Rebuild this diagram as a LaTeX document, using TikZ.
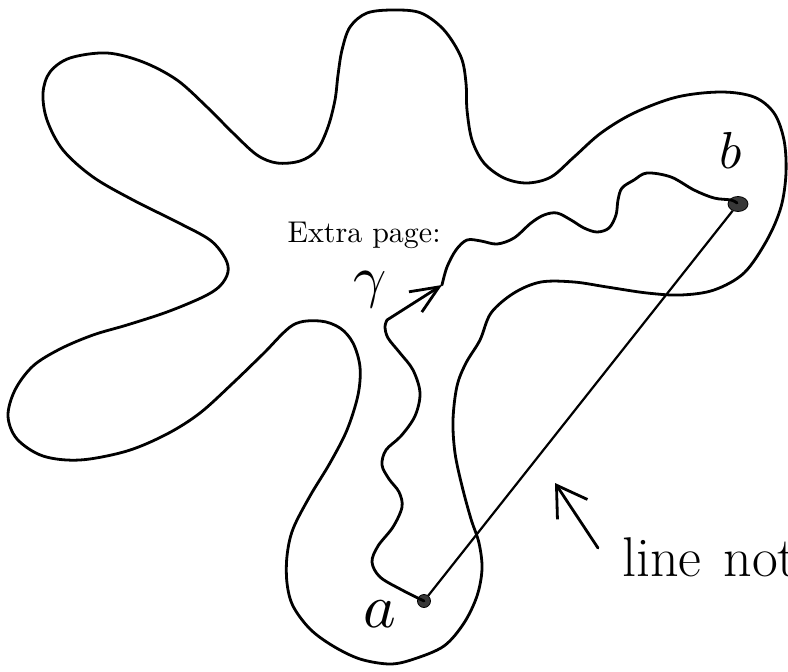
\documentclass[tikz,border=0pt]{standalone}
\usepackage{fontspec}
\usetikzlibrary{arrows.meta,shapes.geometric}
\begin{document}
\begin{tikzpicture}[x=1pt,y=-1pt,
  blob/.style={line width=2.8pt, line join=round, line cap=round},
  wig/.style={line width=2.8pt, line join=round, line cap=round},
  chord/.style={line width=2.2pt},
  hand/.style={inner sep=0pt},
  dotmark/.style={fill=black!78, draw=black, line width=0.8pt, inner sep=0pt}]
\clip (0,0) rectangle (788,672);
% region outline
\draw[blob] plot[smooth cycle, tension=0.55] coordinates {
(394,10) (367,13) (350,27) (342,50) (338,75) (335,100) (328,127) (317,150)
(300,161) (277,163) (257,155) (233,133) (207,107) (177,80) (143,62) (107,53)
(70,58) (50,72) (43,93) (47,120) (63,150) (93,177) (133,200) (177,222)
(210,240) (225,258) (228,272) (220,286) (203,297) (167,312) (127,325) (93,335)
(60,349) (33,366) (15,390) (8,416) (17,439) (43,456) (80,460) (127,451)
(167,434) (200,413) (233,383) (263,354) (293,325) (320,321) (340,328) (353,343)
(360,367) (358,395) (347,430) (330,463) (310,496) (293,529) (287,556) (287,583)
(293,606) (310,629) (333,646) (360,659) (390,664) (414,659) (444,646) (464,623)
(477,596) (482,569) (479,543) (471,519) (462,486) (455,453) (453,420) (457,386)
(466,363) (480,340) (491,313) (514,293) (541,282) (574,282) (607,287) (647,293)
(681,295) (714,290) (744,273) (767,240) (781,207) (786,173) (784,140) (774,113)
(754,97) (721,92) (677,97) (634,113) (601,133) (574,157) (551,177) (527,183)
(504,178) (484,163) (472,140) (467,110) (466,83) (461,57) (444,30) (421,13)};
% end points
\node[dotmark, circle, minimum size=13pt] (adot) at (424,601) {};
\node[dotmark, ellipse, minimum width=20pt, minimum height=15pt] (bdot) at (738,204) {};
\coordinate (gtail) at (387,320);
\coordinate (gtip) at (442,285);
\coordinate (ltail) at (598,548);
\coordinate (ltip) at (555,483);
% straight segment
\draw[chord] (adot) -- (bdot);
% wiggly path gamma
\draw[wig] plot[smooth, tension=0.55] coordinates {
(424,601) (402,590) (380,577) (372,562) (378,546) (393,527) (402,507) (399,492)
(389,479) (382,465) (386,450) (401,436) (415,416) (420,393) (413,370) (400,353)
(388,338) (385,327) (387,320)};
\draw[wig, -{Straight Barb[length=28pt,width=24pt]}] (gtail) -- (gtip);
\draw[wig] plot[smooth, tension=0.55] coordinates {
(442,285) (447,267) (456,250) (467,240) (481,241) (497,244) (514,238) (531,223)
(544,215) (557,213) (571,220) (584,228) (597,232) (609,228) (616,215) (618,200)
(622,188) (634,180) (647,173) (671,177) (694,190) (714,198) (731,200) (737,203)};
% pointer arrow
\draw[wig, -{Straight Barb[length=29pt,width=36pt]}] (ltail) -- (ltip);
% labels
\node[hand, scale=3, anchor=base west] (extra) at (287,242) {Extra page:};
\node[hand, scale=5.2] (blabel) at (731,150) {$b$};
\node[hand, scale=6.2] (alabel) at (380,614) {$a$};
\node[hand, scale=5.8] (glabel) at (370,290) {$\gamma$};
\node[hand, font=\fontsize{56}{62}\selectfont, anchor=base west] (linenot) at (622,576) {line\hspace{5pt} not};
\end{tikzpicture}
\end{document}
